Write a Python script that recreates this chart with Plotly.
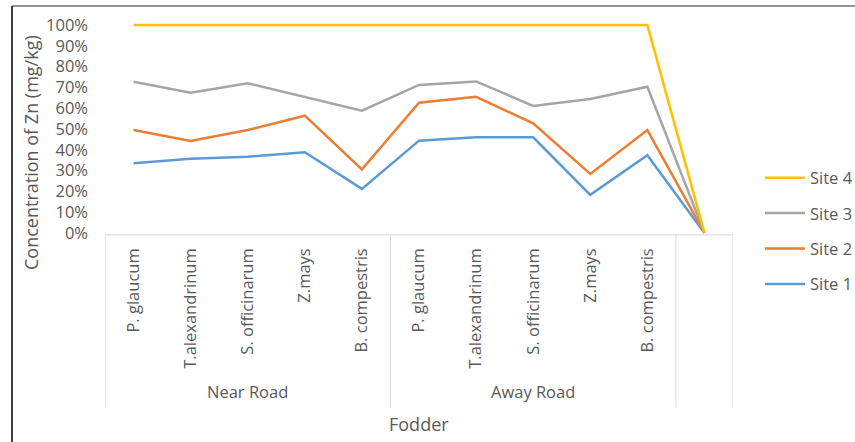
import plotly.graph_objects as go

# Fodder species sampled at each location (last slot is an empty category)
groups = ["Near Road", "Away Road"]
fodder = ["P. glaucum", "T.alexandrinum", "S. officinarum", "Z.mays", "B. compestris"]
categories = fodder + fodder + [""]
y_ticks = list(range(0, 101, 10))
y_tick_labels = [f"{v}%" for v in y_ticks]

# Share of total Zn concentration (%) contributed by each site
site1 = [33.5, 35.7, 36.7, 38.8, 21.2, 44.4, 46.0, 46.0, 18.3, 37.4, 0]
site2 = [16.0, 8.5, 12.8, 17.6, 9.4, 18.2, 19.5, 6.7, 10.1, 12.1, 0]
site3 = [23.2, 23.2, 22.5, 9.1, 28.2, 8.6, 7.4, 8.4, 36.0, 20.8, 0]
site4 = [27.3, 32.6, 28.0, 34.5, 41.2, 28.8, 27.1, 38.9, 35.6, 29.7, 0]

series = [
    ("Site 1", site1, "#5B9BD5"),
    ("Site 2", site2, "#ED7D31"),
    ("Site 3", site3, "#A5A5A5"),
    ("Site 4", site4, "#FFC000"),
]

FONT = "Open Sans"
TXT = "#595959"
x = list(range(len(categories)))

# vertical scale: -1..101 so lines on 0% / 100% are not clipped
Y0, Y1 = -1, 101
PX_PER_UNIT = 2.08
TOP = 25 - (Y1 - 100) * PX_PER_UNIT
BOTTOM = 233 + (0 - Y0) * PX_PER_UNIT
PLOT_H = BOTTOM - TOP
LEFT, RIGHT = 105, 733
PLOT_W = RIGHT - LEFT


def py(pixel_y):
    """paper y for an absolute pixel row"""
    return (BOTTOM - pixel_y) / PLOT_H


def px(pixel_x):
    """paper x for an absolute pixel column"""
    return (pixel_x - LEFT) / PLOT_W


fig = go.Figure()
for i, (name, vals, color) in enumerate(series):
    fig.add_trace(go.Scatter(
        x=x, y=vals, name=name, mode="lines",
        stackgroup="pct", fill="none",
        line=dict(color=color, width=2.5),
        legendgroup=name, legendrank=len(series) - i,
    ))

# Category-axis frame: top rule and vertical separators
axis_line = "#D9D9D9"
fig.add_shape(type="line", xref="x", yref="paper", x0=-0.5, x1=10.5, y0=py(235), y1=py(235),
              line=dict(color=axis_line, width=1))
for xv in [-0.5, 4.5, 9.5, 10.5]:
    fig.add_shape(type="line", xref="x", yref="paper", x0=xv, x1=xv, y0=py(235), y1=py(408),
                  line=dict(color=axis_line, width=1))

# Group labels under the fodder names
for label, xc in zip(groups, [2, 7]):
    fig.add_annotation(text=label, x=xc, xref="x", y=py(392), yref="paper",
                       xanchor="center", yanchor="middle",
                       showarrow=False, font=dict(family=FONT, size=16.5, color=TXT))

# Axis titles
fig.add_annotation(text="Fodder", x=0.5, xref="paper", y=py(424), yref="paper",
                   xanchor="center", yanchor="middle",
                   showarrow=False, font=dict(family=FONT, size=18, color=TXT))
fig.add_annotation(text="Concentration of Zn (mg/kg)", x=px(31), xref="paper",
                   y=py(153), yref="paper", textangle=-90, showarrow=False,
                   xanchor="center", yanchor="middle",
                   font=dict(family=FONT, size=18, color=TXT))

# Outer frame of the figure panel
fig.add_shape(type="line", xref="paper", yref="paper", x0=px(12), x1=px(860),
              y0=py(6), y1=py(6), line=dict(color="#707070", width=1.5))
fig.add_shape(type="line", xref="paper", yref="paper", x0=px(12), x1=px(12),
              y0=py(6), y1=py(445), line=dict(color="#000000", width=1.5))

fig.update_xaxes(
    range=[-0.5, 10.5], tickmode="array", tickvals=x, ticktext=categories,
    tickangle=-90, showgrid=False, zeroline=False, showline=False, ticks="",
    ticklabelstandoff=9,
    tickfont=dict(family=FONT, size=16.5, color=TXT),
)
fig.update_yaxes(
    range=[Y0, Y1], tickmode="array", tickvals=y_ticks, ticktext=y_tick_labels,
    showgrid=False, zeroline=False, showline=False, ticks="",
    ticklabelstandoff=16,
    tickfont=dict(family=FONT, size=16.5, color=TXT),
)

fig.update_layout(
    width=855, height=442,
    margin=dict(l=LEFT, r=855 - RIGHT, t=TOP, b=442 - BOTTOM, autoexpand=False),
    paper_bgcolor="white", plot_bgcolor="white",
    showlegend=True,
    legend=dict(
        traceorder="grouped", tracegroupgap=11, itemwidth=40,
        x=px(760), xanchor="left", y=py(231), yanchor="middle",
        font=dict(family=FONT, size=16.5, color=TXT),
        bgcolor="rgba(0,0,0,0)",
    ),
)

fig.write_html("out.html")
